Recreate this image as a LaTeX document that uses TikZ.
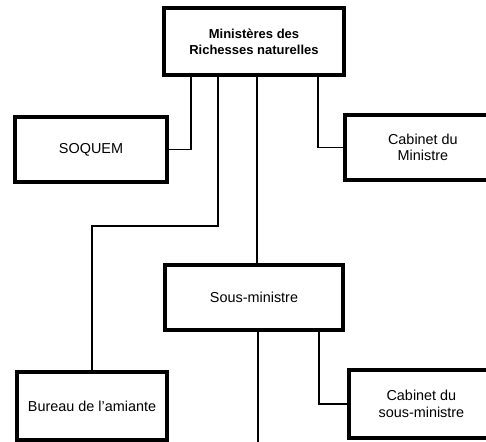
\documentclass[tikz,border=0pt]{standalone}
\usepackage{fontspec}
\setmainfont{Liberation Sans}
\usepackage{tikz}
\usetikzlibrary{calc}
\tikzstyle{service} = [rectangle, line width=2.2pt, draw=black, align=center, minimum height=1.3cm, font=\fontsize{8.2}{9.4}\selectfont]
\tikzstyle{ligne} = [line width=0.7pt]

\begin{document}
\begin{tikzpicture}[x=0.02cm, y=-0.02cm]

\useasboundingbox (0,0) rectangle (486,441);
\clip (0,0) rectangle (486,441);

\node (mnr) [service, minimum width=3.6cm, minimum height=1.34cm, font=\fontsize{7.4}{9.2}\selectfont\bfseries] at (254,41.5) {Ministères des\\Richesses naturelles};

\node (soquem) [service, minimum width=3.04cm] at (91,149.5) {SOQUEM};

\node (cabmin) [service, minimum width=3.12cm, anchor=west] at (343,147.5) {Cabinet du\\Ministre};

\node (sous) [service, minimum width=3.56cm] at (254,297.5) {Sous-ministre};

\node (bureau) [service, minimum width=3.0cm, minimum height=1.36cm] at (92,406) {Bureau de l'amiante};

\node (cabsous) [service, minimum width=2.9cm, minimum height=1.36cm, anchor=west] at (347,404) {Cabinet du\\sous-ministre};

\coordinate (bas) at (258,450);

\draw [ligne] ($(mnr.south west)+(29,0)$) |- (soquem.east);
\draw [ligne] ($(mnr.south west)+(56,0)$) -- ++(0,149) -| (bureau.north);
\draw [ligne] ($(mnr.south)+(3,0)$) -- ($(sous.north)+(3,0)$);
\draw [ligne] ($(mnr.south west)+(156,0)$) |- (cabmin.west);
\draw [ligne] ($(sous.south)+(4,0)$) -- (bas);
\draw [ligne] ($(sous.south west)+(156,0)$) |- (cabsous.west);

\end{tikzpicture}
\end{document}
